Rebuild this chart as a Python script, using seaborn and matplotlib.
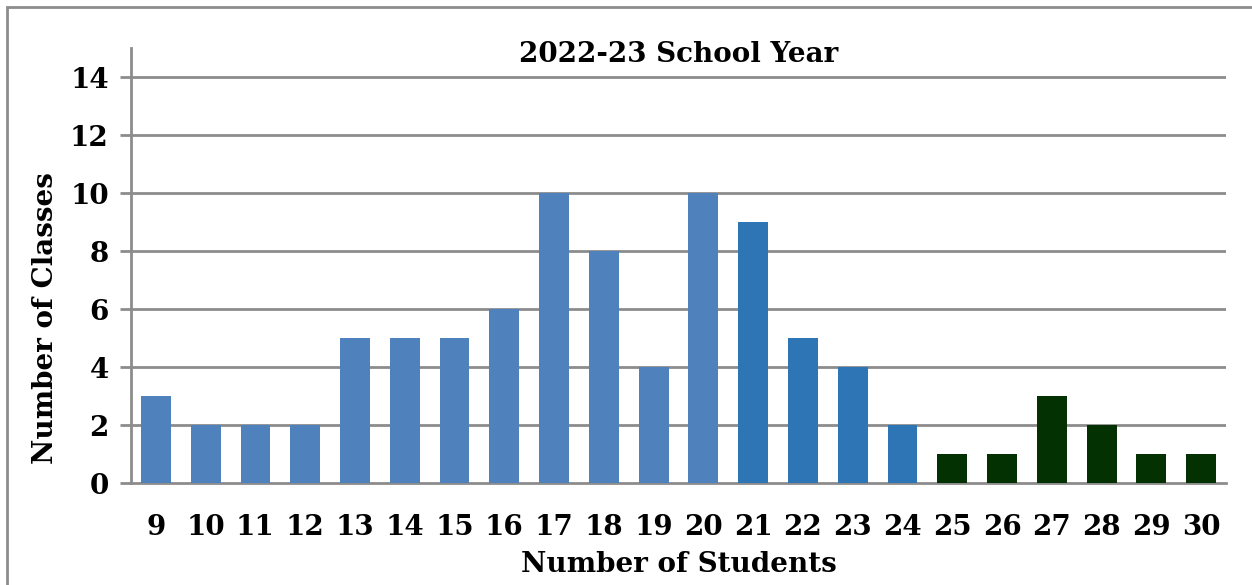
import matplotlib
matplotlib.use("Agg")
import matplotlib.pyplot as plt
import seaborn as sns
from matplotlib.patches import Rectangle

# Data
students = [str(n) for n in range(9, 31)]
classes = [3, 2, 2, 2, 5, 5, 5, 6, 10, 8, 4, 10, 9, 5, 4, 2, 1, 1, 3, 2, 1, 1]
bar_colors = ["#4F81BD"] * 12 + ["#2E75B6"] * 4 + ["#033102"] * 6

sns.set_theme(style="white")
plt.rcParams["font.family"] = ["DejaVu Serif"]
plt.rcParams["font.weight"] = "bold"
plt.rcParams["text.color"] = "black"
plt.rcParams["xtick.color"] = "black"
plt.rcParams["ytick.color"] = "black"
plt.rcParams["axes.labelcolor"] = "black"

fig = plt.figure(figsize=(12.52, 5.85), dpi=100)
ax = fig.add_axes([131 / 1252, 102 / 585, 1095 / 1252, 435 / 585])

sns.barplot(x=students, y=classes, hue=students, palette=bar_colors,
            width=0.6, legend=False, saturation=1, linewidth=0, ax=ax, zorder=3)

grid_c = "#8c8c8c"
ax.set_ylim(0, 15)
ax.set_xlim(-0.5, len(students) - 0.5)
ax.set_yticks(range(0, 15, 2))
for y in range(2, 15, 2):
    ax.axhline(y, color=grid_c, lw=2, zorder=1)

ax.spines["top"].set_visible(False)
ax.spines["right"].set_visible(False)
for s in ["left", "bottom"]:
    ax.spines[s].set_color(grid_c)
    ax.spines[s].set_linewidth(2)

ax.set_xticks([i - 0.5 for i in range(len(students) + 1)], minor=True)
ax.tick_params(axis="x", which="major", length=0, pad=22, labelsize=20)
ax.tick_params(axis="x", which="minor", length=10, width=2, color=grid_c, direction="out")
ax.tick_params(axis="y", which="major", length=8, width=2, color=grid_c, direction="out",
               pad=8, labelsize=20, left=True)
for lab in ax.get_xticklabels() + ax.get_yticklabels():
    lab.set_fontweight("bold")

ax.set_xlabel("Number of Students", fontsize=20, fontweight="bold", va="center")
ax.xaxis.set_label_coords(0.5, -(565 - 483) / 435)
ax.set_ylabel("Number of Classes", fontsize=20, fontweight="bold")
ax.yaxis.set_label_coords(-0.066, 0.38)
ax.text(0.5, 0.985, "2022-23 School Year", transform=ax.transAxes,
        ha="center", va="center", fontsize=20, fontweight="bold")

# outer chart border
fig.patches.append(Rectangle((7 / 1252, -0.1), 1.2, 1 - 7 / 585 + 0.1,
                             transform=fig.transFigure, fill=False,
                             edgecolor=grid_c, lw=2))

plt.savefig("out.png", dpi=100)
